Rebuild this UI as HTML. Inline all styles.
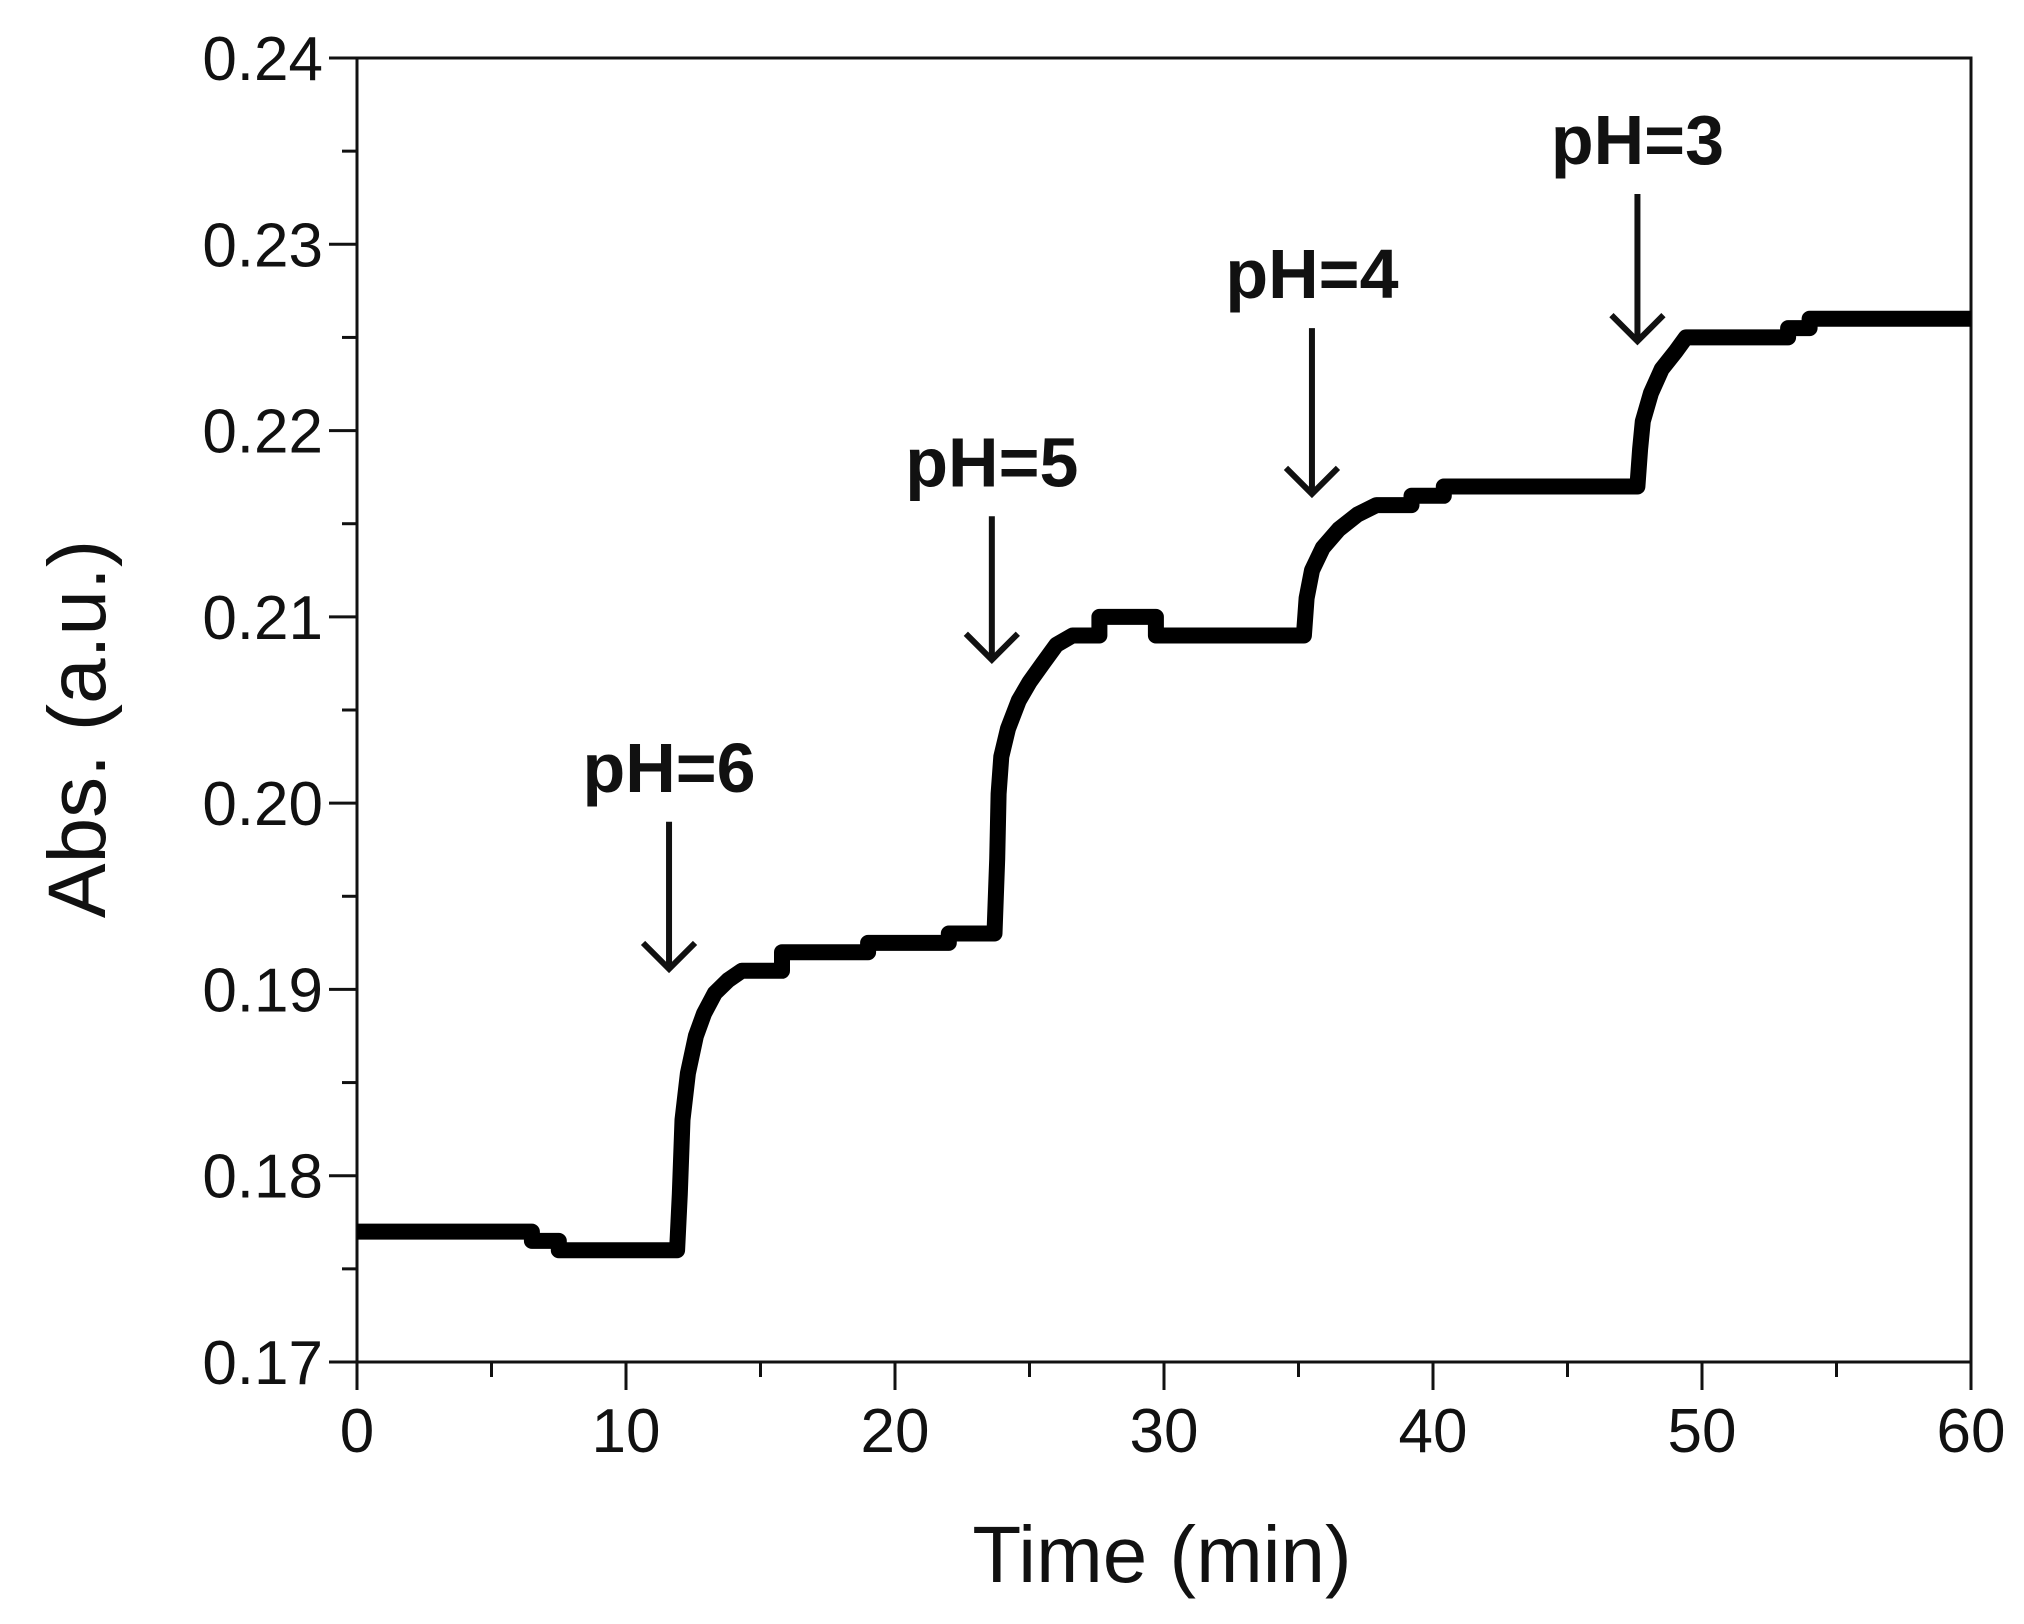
<!DOCTYPE html>
<html><head><meta charset="utf-8">
<style>
html,body{margin:0;padding:0;background:#fff;}
svg{display:block;font-family:"Liberation Sans",Arial,sans-serif;}
</style></head>
<body>
<svg id="chart" width="2024" height="1624" viewBox="0 0 2024 1624" xmlns="http://www.w3.org/2000/svg">
<g id="axes"></g>
<g id="series"></g>
<g id="annots"></g>
<text x="0" y="0" transform="translate(105,729) rotate(-90)" text-anchor="middle" font-size="82" fill="#111">Abs. (a.u.)</text>
<text x="1162" y="1582" text-anchor="middle" font-size="80" fill="#111">Time (min)</text>
</svg>
<script>
const xTicks = [0,10,20,30,40,50,60];
const yTicks = [0.17,0.18,0.19,0.20,0.21,0.22,0.23,0.24];
const yTickLabels = ["0.17","0.18","0.19","0.20","0.21","0.22","0.23","0.24"];
const timeVals = [0,6.5,6.5,7.5,7.5,11.9,12.0,12.1,12.3,12.6,12.9,13.3,13.8,14.3,15.8,15.8,19.0,19.0,22.0,22.0,23.7,23.8,23.85,23.95,24.2,24.6,25.0,25.5,26.0,26.6,27.6,27.6,29.7,29.7,35.2,35.3,35.5,35.9,36.5,37.2,37.9,39.2,39.2,40.4,40.4,47.6,47.7,47.8,48.1,48.5,49.0,49.4,53.2,53.2,54.0,54.0,60];
const absVals = [0.177,0.177,0.1765,0.1765,0.176,0.176,0.179,0.183,0.1855,0.1875,0.1887,0.1898,0.1905,0.191,0.191,0.192,0.192,0.1925,0.1925,0.193,0.193,0.197,0.2005,0.2025,0.204,0.2055,0.2065,0.2075,0.2085,0.209,0.209,0.210,0.210,0.209,0.209,0.211,0.2125,0.2137,0.2147,0.2155,0.216,0.216,0.2165,0.2165,0.217,0.217,0.219,0.2205,0.222,0.2233,0.2242,0.225,0.225,0.2255,0.2255,0.226,0.226];
const annLabels = ["pH=6","pH=5","pH=4","pH=3"];
const annTimes = [11.6,23.6,35.5,47.6];
const annTop = [0.1990,0.2154,0.2255,0.2327];
const annTip = [0.1911,0.2077,0.2166,0.2248];

const X0=357, X1=1971, Y0=1362, Y1=58;
const xS = t => X0 + (t-0)/(60-0)*(X1-X0);
const yS = v => Y0 - (v-0.17)/(0.24-0.17)*(Y0-Y1);
const NS="http://www.w3.org/2000/svg";
function mk(tag, attrs, parent){const e=document.createElementNS(NS,tag);for(const k in attrs)e.setAttribute(k,attrs[k]);parent.appendChild(e);return e;}
const axes=document.getElementById('axes');
const frame=mk('rect',{x:X0,y:Y1,width:X1-X0,height:Y0-Y1,fill:'none',stroke:'#111','stroke-width':3},axes);


for(let t=0;t<=60;t+=5){
  const major=t%10===0;
  const l=mk('line',{x1:xS(t),x2:xS(t),y1:Y0,y2:Y0+(major?28:15),stroke:'#111','stroke-width':3},axes);
  
  
}
xTicks.forEach(t=>{
  const tx=mk('text',{x:xS(t),y:1452,'text-anchor':'middle','font-size':62,fill:'#111'},axes);
  tx.textContent=String(t);
  
  
});
for(let i=0;i<=14;i++){
  const v=0.17+i*0.005;
  const major=i%2===0;
  const l=mk('line',{x1:X0-(major?28:15),x2:X0,y1:yS(v),y2:yS(v),stroke:'#111','stroke-width':3},axes);
  
  
}
yTicks.forEach((v,i)=>{
  const tx=mk('text',{x:323,y:yS(v)+22,'text-anchor':'end','font-size':62,fill:'#111'},axes);
  tx.textContent=yTickLabels[i];
  
  
});
const series=document.getElementById('series');
const d=timeVals.map((t,i)=>(i?'L':'M')+xS(t).toFixed(1)+','+yS(absVals[i]).toFixed(1)).join(' ');
const p=mk('path',{d:d,fill:'none',stroke:'#000','stroke-width':16,'stroke-linejoin':'round','stroke-linecap':'butt'},series);


const annots=document.getElementById('annots');
annLabels.forEach((lab,i)=>{
  const x=xS(annTimes[i]), yt=yS(annTop[i]), yb=yS(annTip[i]);
  const tx=mk('text',{x:x,y:yt-30,'text-anchor':'middle','font-size':70,'font-weight':'bold',fill:'#111'},annots);
  tx.textContent=lab;
  
  
  const ln=mk('line',{x1:x,x2:x,y1:yt,y2:yb,stroke:'#111','stroke-width':6},annots);
  
  
  const hd=mk('path',{d:`M${x-26},${yb-26} L${x},${yb} L${x+26},${yb-26}`,fill:'none',stroke:'#111','stroke-width':6},annots);
  
  
});
</script>
</body></html>
